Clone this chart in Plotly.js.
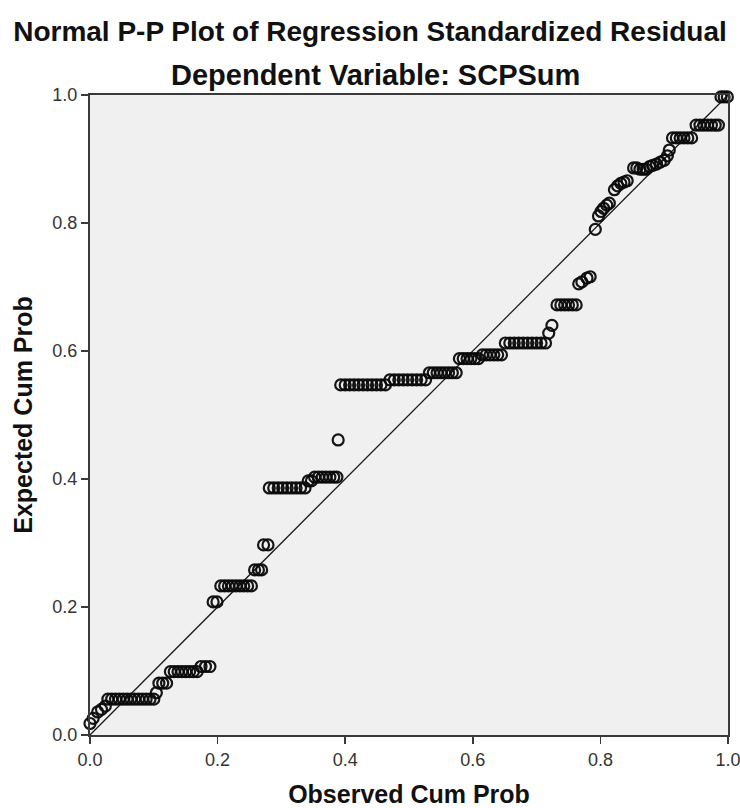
<!DOCTYPE html>
<html>
<head>
<meta charset="utf-8">
<script src="https://cdn.plot.ly/plotly-3.0.1.min.js"></script>
<style>html,body{margin:0;padding:0;background:#fff;}#chart{width:740px;height:808px;}</style>
</head>
<body>
<div id="chart"></div>
<script>
// Observed cumulative probability (x) and expected cumulative probability (y)
var observedCumProb = [
  0.000,0.005,0.012,0.018,0.024,
  0.028,0.034,0.040,0.046,0.052,0.058,0.064,0.070,0.076,0.082,0.088,0.094,0.100,
  0.104,0.108,0.114,0.120,
  0.126,0.132,0.138,0.144,0.150,0.156,0.162,0.168,
  0.174,0.181,0.188,
  0.193,0.199,
  0.205,0.211,0.217,0.223,0.229,0.235,0.241,0.247,0.253,
  0.258,0.264,0.269,
  0.272,0.279,
  0.281,0.288,0.295,0.302,0.309,0.316,0.323,0.330,0.337,
  0.342,0.347,
  0.352,0.358,0.364,0.370,0.376,0.382,0.387,
  0.389,
  0.393,0.400,0.407,0.414,0.421,0.428,0.435,0.442,0.449,0.456,0.463,
  0.470,0.477,0.484,0.491,0.498,0.505,0.512,0.519,0.526,
  0.532,0.538,0.544,0.550,0.556,0.562,0.568,0.574,
  0.579,0.585,0.591,0.597,0.603,0.609,0.615,0.621,0.627,0.633,0.639,0.645,
  0.651,0.658,0.665,0.672,0.679,0.686,0.693,0.700,0.707,0.714,
  0.719,0.724,
  0.732,0.738,0.744,0.750,0.756,0.762,
  0.766,0.771,0.779,0.784,
  0.792,0.797,0.801,0.805,0.810,0.814,
  0.822,0.827,0.832,0.837,0.842,
  0.852,0.857,0.862,0.867,0.872,0.877,0.882,
  0.888,0.894,0.900,0.905,0.908,
  0.913,0.919,0.925,0.931,0.937,0.943,
  0.950,0.956,0.962,0.968,0.974,0.980,0.985,
  0.989,0.994,0.999
];
var expectedCumProb = [
  0.018,0.026,0.036,0.040,0.045,
  0.056,0.056,0.056,0.056,0.056,0.056,0.056,0.056,0.056,0.056,0.056,0.056,0.056,
  0.066,0.081,0.081,0.081,
  0.099,0.099,0.099,0.099,0.099,0.099,0.099,0.099,
  0.107,0.107,0.107,
  0.208,0.208,
  0.233,0.233,0.233,0.233,0.233,0.233,0.233,0.233,0.233,
  0.258,0.258,0.258,
  0.297,0.297,
  0.386,0.386,0.386,0.386,0.386,0.386,0.386,0.386,0.386,
  0.397,0.397,
  0.403,0.403,0.403,0.403,0.403,0.403,0.403,
  0.461,
  0.547,0.547,0.547,0.547,0.547,0.547,0.547,0.547,0.547,0.547,0.547,
  0.555,0.555,0.555,0.555,0.555,0.555,0.555,0.555,0.555,
  0.566,0.566,0.566,0.566,0.566,0.566,0.566,0.566,
  0.588,0.588,0.588,0.588,0.588,0.588,0.594,0.594,0.594,0.594,0.594,0.594,
  0.6125,0.6125,0.6125,0.6125,0.6125,0.6125,0.6125,0.6125,0.6125,0.6125,
  0.628,0.640,
  0.672,0.672,0.672,0.672,0.672,0.672,
  0.705,0.708,0.714,0.716,
  0.790,0.811,0.818,0.823,0.828,0.831,
  0.852,0.858,0.862,0.864,0.866,
  0.886,0.886,0.884,0.884,0.884,0.888,0.890,
  0.892,0.895,0.898,0.905,0.914,
  0.933,0.933,0.933,0.933,0.933,0.933,
  0.953,0.953,0.953,0.953,0.953,0.953,0.953,
  0.997,0.997,0.997
];
// Reference line y = x
var refLine = [0, 1];
var tickVals = [0, 0.2, 0.4, 0.6, 0.8, 1.0];
var tickText = ['0.0', '0.2', '0.4', '0.6', '0.8', '1.0'];

var FONT = 'Liberation Sans, Arial, sans-serif';

var traces = [
  {
    x: refLine, y: refLine, type: 'scatter', mode: 'lines',
    line: {color: '#1a1a1a', width: 1.3}, hoverinfo: 'skip', showlegend: false
  },
  {
    x: observedCumProb, y: expectedCumProb, type: 'scatter', mode: 'markers',
    marker: {symbol: 'circle-open', size: 11, color: 'rgba(10,10,10,0.95)', line: {width: 2.2}},
    cliponaxis: false, showlegend: false
  }
];

var axisCommon = {
  range: [0, 1], tickvals: tickVals, ticktext: tickText,
  showgrid: false, zeroline: false,
  showline: true, mirror: true, linecolor: '#3a3a3a', linewidth: 2,
  ticks: 'outside', ticklen: 7, tickwidth: 1.5, tickcolor: '#3a3a3a',
  ticklabeloverflow: 'allow',
  tickfont: {family: FONT, size: 18, color: '#333'}
};

var layout = {
  width: 740, height: 808,
  paper_bgcolor: '#ffffff', plot_bgcolor: '#f0f0f0',
  margin: {l: 90, r: 12, t: 95, b: 73},
  showlegend: false,
  title: {
    text: '<b>Normal P-P Plot of Regression Standardized Residual</b>',
    font: {family: FONT, size: 28, color: '#111'},
    x: 0.5, xanchor: 'center', xref: 'container',
    y: 1 - 31 / 808, yanchor: 'middle', yref: 'container'
  },
  annotations: [{
    text: '<b>Dependent Variable: SCPSum</b>',
    xref: 'paper', yref: 'paper', x: 0.447, y: 1 + 20 / 640,
    xanchor: 'center', yanchor: 'middle', showarrow: false,
    font: {family: FONT, size: 29, color: '#111'}
  }],
  xaxis: Object.assign({}, axisCommon, {
    title: {text: '<b>Observed Cum Prob</b>', font: {family: FONT, size: 25, color: '#111'}, standoff: 19}
  }),
  yaxis: Object.assign({}, axisCommon, {
    title: {text: '<b>Expected Cum Prob</b>', font: {family: FONT, size: 25, color: '#111'}, standoff: 13}
  })
};

Plotly.newPlot('chart', traces, layout, {displayModeBar: false, staticPlot: true});
</script>
</body>
</html>
